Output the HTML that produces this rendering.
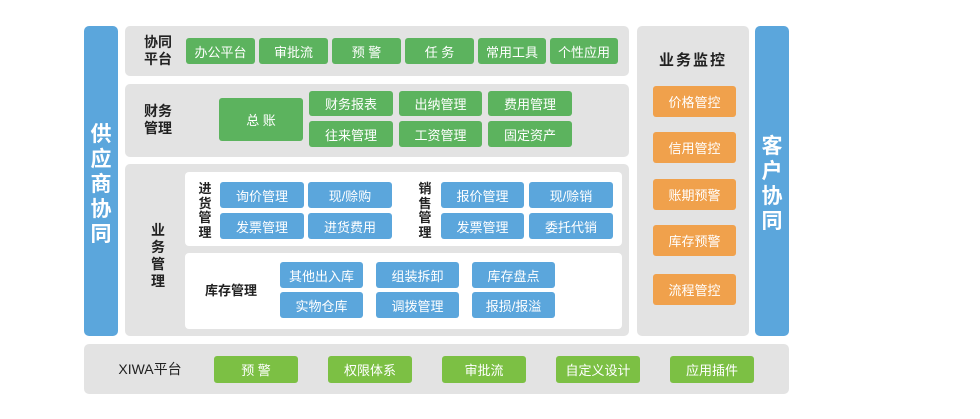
<!DOCTYPE html>
<html><head><meta charset="utf-8"><style>
body{margin:0;width:980px;height:419px;background:#fff;position:relative;overflow:hidden;font-family:"Liberation Sans","Noto Sans CJK SC",sans-serif;}
div{position:absolute;box-sizing:border-box;}
.p{background:#e3e3e3;border-radius:5px;}
.w{background:#fff;border-radius:4px;}
.b{color:#fff;font-size:13px;display:flex;align-items:center;justify-content:center;border-radius:3px;}
.g{background:#5cb35e;}
.l{background:#7cc044;}
.u{background:#5ba6dc;}
.o{background:#f0a14c;}
.t{color:#222;font-size:14px;text-align:center;line-height:17px;font-weight:bold;}
.vb{background:#5ba6dc;border-radius:5px;color:#fff;font-size:21px;text-align:center;line-height:25px;font-weight:bold;}
</style></head><body>
<div class="vb" style="left:84px;top:26px;width:34px;height:310px;padding-top:96px;">供<br>应<br>商<br>协<br>同</div>
<div class="vb" style="left:755px;top:26px;width:34px;height:310px;padding-top:108px;">客<br>户<br>协<br>同</div>

<div class="p" style="left:125px;top:26px;width:504px;height:50px;"></div>
<div class="t" style="left:138px;top:34px;width:40px;">协同<br>平台</div>
<div class="b g" style="left:186px;top:38px;width:69px;height:26px;">办公平台</div>
<div class="b g" style="left:259px;top:38px;width:69px;height:26px;">审批流</div>
<div class="b g" style="left:332px;top:38px;width:69px;height:26px;">预 警</div>
<div class="b g" style="left:405px;top:38px;width:69px;height:26px;">任 务</div>
<div class="b g" style="left:478px;top:38px;width:68px;height:26px;">常用工具</div>
<div class="b g" style="left:550px;top:38px;width:68px;height:26px;">个性应用</div>

<div class="p" style="left:125px;top:84px;width:504px;height:73px;"></div>
<div class="t" style="left:138px;top:103px;width:40px;">财务<br>管理</div>
<div class="b g" style="left:219px;top:98px;width:84px;height:43px;">总 账</div>
<div class="b g" style="left:309px;top:91px;width:84px;height:25px;">财务报表</div>
<div class="b g" style="left:309px;top:121px;width:84px;height:26px;">往来管理</div>
<div class="b g" style="left:399px;top:91px;width:83px;height:25px;">出纳管理</div>
<div class="b g" style="left:399px;top:121px;width:83px;height:26px;">工资管理</div>
<div class="b g" style="left:488px;top:91px;width:84px;height:25px;">费用管理</div>
<div class="b g" style="left:488px;top:121px;width:84px;height:26px;">固定资产</div>

<div class="p" style="left:125px;top:164px;width:504px;height:172px;"></div>
<div class="t" style="left:150px;top:222px;width:16px;">业<br>务<br>管<br>理</div>
<div class="w" style="left:185px;top:172px;width:437px;height:74px;"></div>
<div class="w" style="left:185px;top:253px;width:437px;height:76px;"></div>
<div class="t" style="left:197px;top:182px;width:16px;font-size:13px;line-height:14.5px;">进<br>货<br>管<br>理</div>
<div class="t" style="left:417px;top:182px;width:16px;font-size:13px;line-height:14.5px;">销<br>售<br>管<br>理</div>
<div class="b u" style="left:220px;top:182px;width:84px;height:26px;">询价管理</div>
<div class="b u" style="left:308px;top:182px;width:84px;height:26px;">现/赊购</div>
<div class="b u" style="left:220px;top:213px;width:84px;height:26px;">发票管理</div>
<div class="b u" style="left:308px;top:213px;width:84px;height:26px;">进货费用</div>
<div class="b u" style="left:441px;top:182px;width:83px;height:26px;">报价管理</div>
<div class="b u" style="left:529px;top:182px;width:84px;height:26px;">现/赊销</div>
<div class="b u" style="left:441px;top:213px;width:83px;height:26px;">发票管理</div>
<div class="b u" style="left:529px;top:213px;width:84px;height:26px;">委托代销</div>
<div class="t" style="left:200px;top:282px;width:62px;font-size:13px;">库存管理</div>
<div class="b u" style="left:280px;top:262px;width:83px;height:26px;">其他出入库</div>
<div class="b u" style="left:376px;top:262px;width:83px;height:26px;">组装拆卸</div>
<div class="b u" style="left:472px;top:262px;width:83px;height:26px;">库存盘点</div>
<div class="b u" style="left:280px;top:292px;width:83px;height:26px;">实物仓库</div>
<div class="b u" style="left:376px;top:292px;width:83px;height:26px;">调拨管理</div>
<div class="b u" style="left:472px;top:292px;width:83px;height:26px;">报损/报溢</div>

<div class="p" style="left:637px;top:26px;width:112px;height:310px;"></div>
<div class="t" style="left:637px;top:52px;width:112px;font-size:15px;letter-spacing:2px;">业务监控</div>
<div class="b o" style="left:653px;top:86px;width:83px;height:31px;">价格管控</div>
<div class="b o" style="left:653px;top:132px;width:83px;height:31px;">信用管控</div>
<div class="b o" style="left:653px;top:179px;width:83px;height:31px;">账期预警</div>
<div class="b o" style="left:653px;top:225px;width:83px;height:31px;">库存预警</div>
<div class="b o" style="left:653px;top:274px;width:83px;height:31px;">流程管控</div>

<div class="p" style="left:84px;top:344px;width:705px;height:50px;"></div>
<div class="t" style="left:110px;top:361px;width:80px;font-weight:normal;">XIWA平台</div>
<div class="b l" style="left:214px;top:356px;width:84px;height:27px;">预 警</div>
<div class="b l" style="left:328px;top:356px;width:84px;height:27px;">权限体系</div>
<div class="b l" style="left:442px;top:356px;width:84px;height:27px;">审批流</div>
<div class="b l" style="left:556px;top:356px;width:84px;height:27px;">自定义设计</div>
<div class="b l" style="left:670px;top:356px;width:84px;height:27px;">应用插件</div>
</body></html>
